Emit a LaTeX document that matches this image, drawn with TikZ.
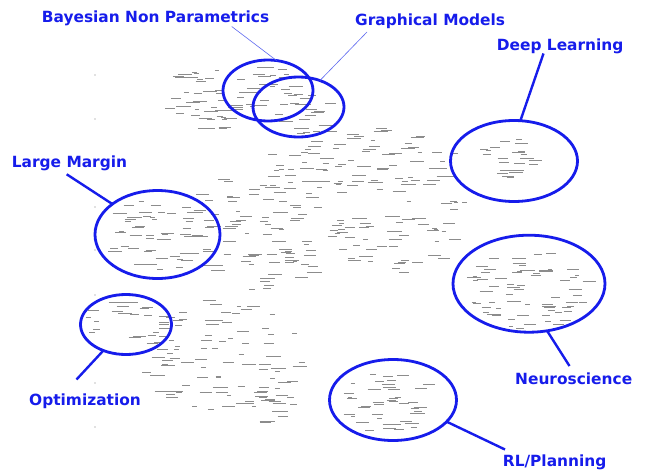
\documentclass[tikz,border=0pt]{standalone}
\usepackage{fontspec}
\setmainfont{DejaVu Sans}
\usetikzlibrary{shapes.geometric}
\newcommand\wordcloud[5]{%
 \foreach \k in {1,...,#5}{%
  \pgfmathsetmacro\wa{rnd*360}%
  \pgfmathsetmacro\wr{sqrt(rnd)}%
  \pgfmathsetmacro\wx{#1+#3*\wr*cos(\wa)}%
  \pgfmathsetmacro\wy{#2+#4*\wr*sin(\wa)}%
  \pgfmathsetmacro\wl{4+rnd*11}%
  \draw[wordmark] (\wx,\wy) -- ++(\wl,0);
 }}
\begin{document}
\begin{tikzpicture}[x=1pt,y=-1pt]
\definecolor{hl}{RGB}{22,28,235}
\definecolor{hlthin}{RGB}{95,105,240}
\tikzset{
 ring/.style={ellipse,draw=hl,line width=2.8pt,inner sep=0pt,outer sep=0pt},
 pointer/.style={draw=hl,line width=2.4pt},
 thinpointer/.style={draw=hlthin,line width=0.6pt},
 topic/.style={text=hl,font=\fontsize{15.4}{18}\selectfont\bfseries,inner sep=0pt,anchor=base west},
 wordmark/.style={draw=black!45,line width=0.6pt},
 speck/.style={fill=black!50}
}
\useasboundingbox (0,0) rectangle (646,471);
\fill[white] (0,0) rectangle (646,471);

% scattered tiny labels
\pgfmathsetseed{7}
\wordcloud{200}{100}{42}{32}{45}
\wordcloud{262}{86}{35}{22}{25}
\wordcloud{300}{112}{30}{22}{20}
\wordcloud{360}{160}{95}{35}{80}
\wordcloud{260}{230}{80}{60}{90}
\wordcloud{390}{238}{62}{40}{45}
\wordcloud{158}{235}{55}{38}{50}
\wordcloud{122}{322}{40}{22}{20}
\wordcloud{215}{355}{85}{55}{90}
\wordcloud{268}{405}{25}{18}{15}
\wordcloud{506}{160}{30}{23}{25}
\wordcloud{525}{290}{62}{40}{70}
\wordcloud{386}{402}{46}{32}{45}
\wordcloud{452}{205}{12}{6}{5}
\foreach \sy in {75,119,207,250,295,383,427}{\fill[speck] (95,\sy) circle (0.6);}

% topic rings
\node[ring,minimum width=90,minimum height=61] (bnp) at (268,90.5) {};
\node[ring,minimum width=91,minimum height=60] (gm) at (298.5,107) {};
\node[ring,minimum width=127,minimum height=81] (dl) at (514,161) {};
\node[ring,minimum width=125,minimum height=88] (lm) at (157.5,234.5) {};
\node[ring,minimum width=91,minimum height=60] (opt) at (126,324.5) {};
\node[ring,minimum width=152,minimum height=97] (neuro) at (529,283.7) {};
\node[ring,minimum width=127,minimum height=81] (rl) at (393,400) {};

% labels
\node[topic] (tbnp) at (41.7,22) {Bayesian Non Parametrics};
\node[topic] (tgm) at (355,25.7) {Graphical Models};
\node[topic] (tdl) at (496.7,50.7) {Deep Learning};
\node[topic] (tlm) at (11.7,167.3) {Large Margin};
\node[topic] (topt) at (29,405.5) {Optimization};
\node[topic] (tneuro) at (515,384) {Neuroscience};
\node[topic] (trl) at (502.7,466.7) {RL/Planning};

% connector tails
\coordinate (cbnp) at (231.7,26.5);
\coordinate (cgm) at (367,32);
\coordinate (cdl) at (543.5,53.5);
\coordinate (clm) at (66.7,174.3);
\coordinate (copt) at (76.5,379.5);
\coordinate (cneuro) at (569.5,366);
\coordinate (crl) at (505,449.5);

\draw[thinpointer] (cbnp) -- (bnp.74);
\draw[thinpointer] (cgm) -- (gm.51);
\draw[pointer] (cdl) -- (dl.81.5);
\draw[pointer] (clm) -- (lm.146);
\draw[pointer] (copt) -- (opt.229);
\draw[pointer] (cneuro) -- (neuro.291);
\draw[pointer] (crl) -- (rl.338.6);
\end{tikzpicture}
\end{document}
